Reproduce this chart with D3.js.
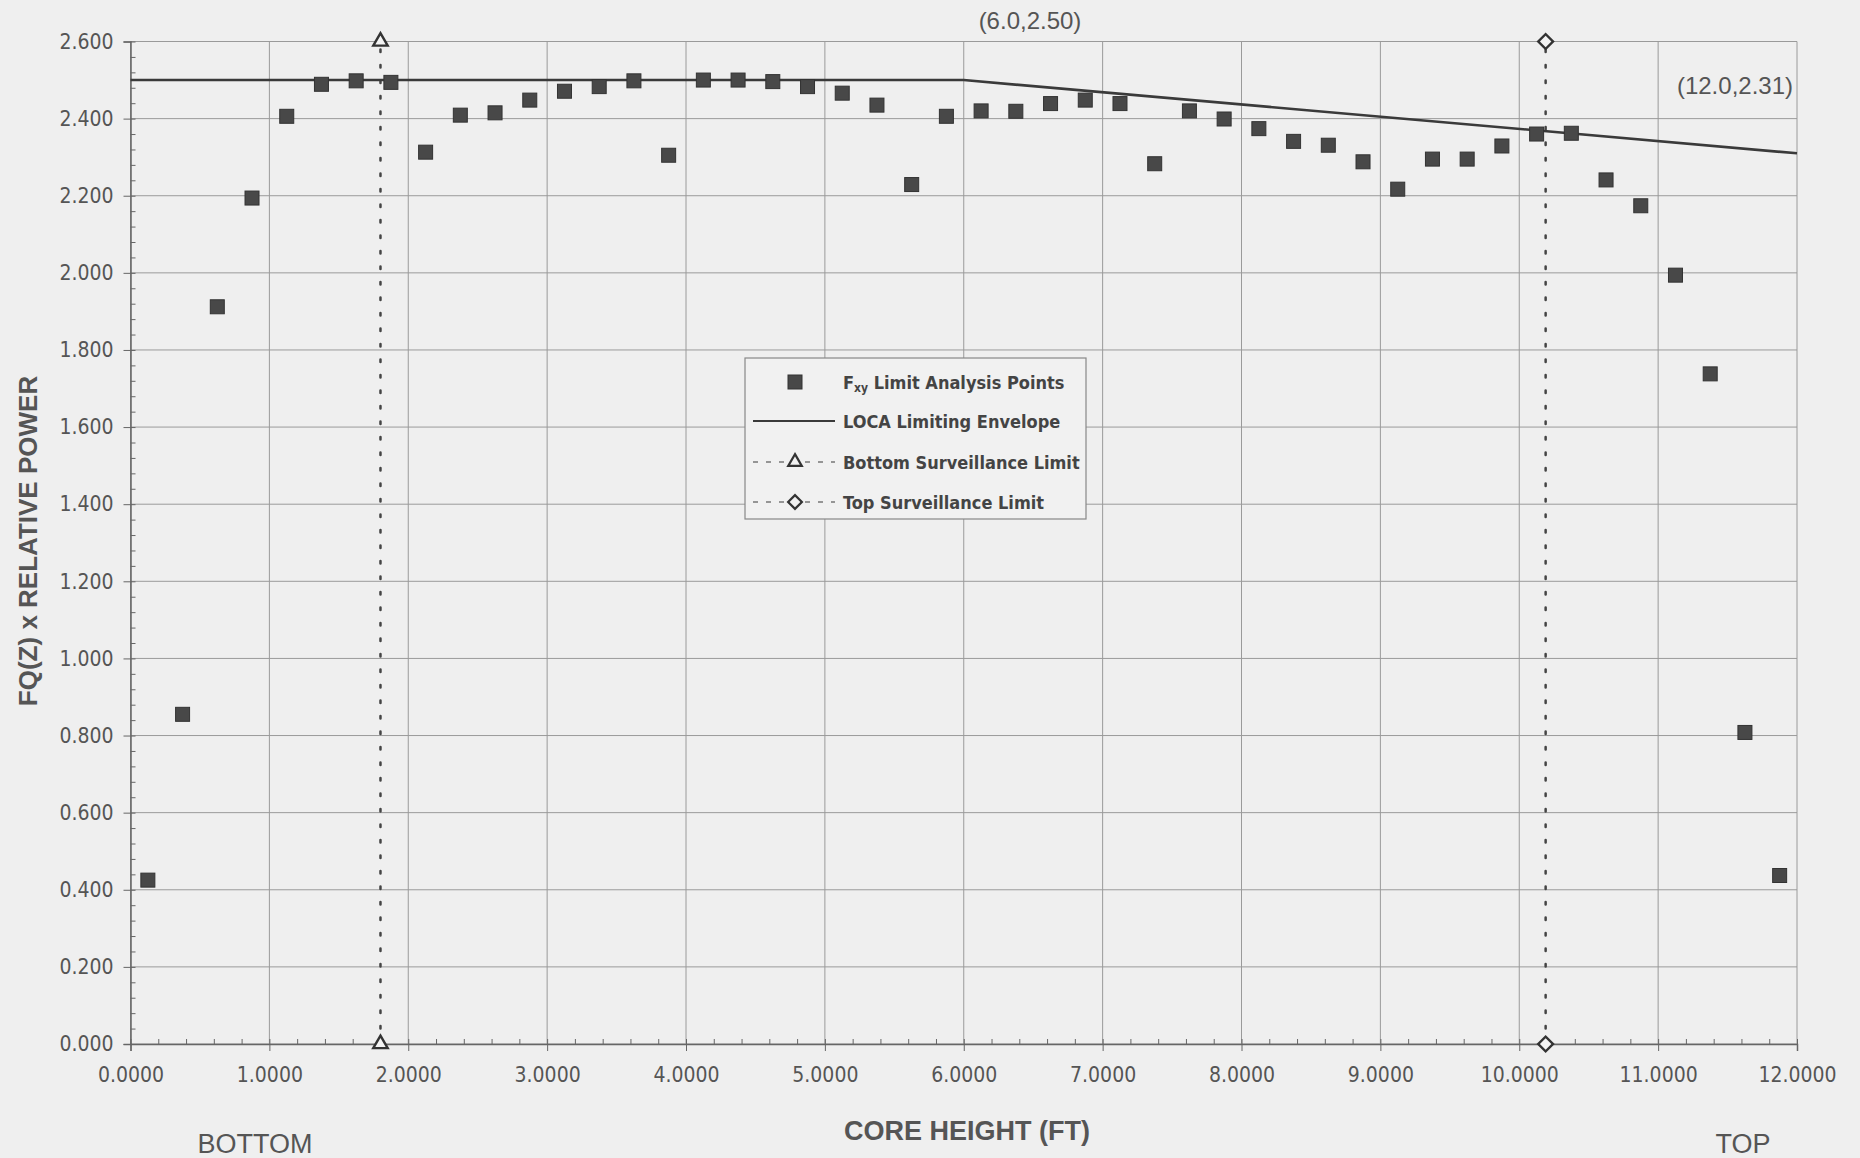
<!DOCTYPE html>
<html>
<head>
<meta charset="utf-8">
<title>FQ(Z) x Relative Power vs Core Height</title>
<style>
body { margin: 0; background: #efefef; }
svg { display: block; }
.tick text { font-family: "Liberation Sans Narrow", "DejaVu Sans Condensed", sans-serif; font-stretch: condensed; font-size: 21px; fill: #555; }
.axis path, .axis line { stroke: #666; }
.grid line { stroke: #9a9a9a; stroke-width: 1; }
.lbl { font-family: "Liberation Sans", Arial, sans-serif; fill: #555; }
.leg { font-family: "Liberation Sans Narrow", "DejaVu Sans Condensed", sans-serif; font-stretch: condensed; font-weight: bold; font-size: 18px; fill: #444; }
</style>
</head>
<body>
<script src="https://d3js.org/d3.v7.min.js"></script>
<script>

// core height (ft) of each analysis point
var heights = [0.125, 0.375, 0.625, 0.875, 1.125, 1.375, 1.625, 1.875, 2.125, 2.375,
               2.625, 2.875, 3.125, 3.375, 3.625, 3.875, 4.125, 4.375, 4.625, 4.875,
               5.125, 5.375, 5.625, 5.875, 6.125, 6.375, 6.625, 6.875, 7.125, 7.375,
               7.625, 7.875, 8.125, 8.375, 8.625, 8.875, 9.125, 9.375, 9.625, 9.875,
               10.125, 10.375, 10.625, 10.875, 11.125, 11.375, 11.625, 11.875];
// Fxy limit analysis points, FQ(Z) x relative power
var fxyPoints = [0.425, 0.855, 1.912, 2.194, 2.406, 2.489, 2.498, 2.494, 2.313, 2.409,
                 2.415, 2.448, 2.471, 2.483, 2.498, 2.305, 2.500, 2.500, 2.496, 2.483,
                 2.466, 2.435, 2.229, 2.406, 2.420, 2.419, 2.439, 2.448, 2.439, 2.283,
                 2.420, 2.399, 2.374, 2.341, 2.331, 2.288, 2.217, 2.295, 2.295, 2.329,
                 2.360, 2.362, 2.241, 2.174, 1.994, 1.738, 0.808, 0.437];

// LOCA limiting envelope
var locaX = [0.0, 6.0, 12.0];
var locaY = [2.50, 2.50, 2.31];

// surveillance limits
var bottomLimitX = [1.80, 1.80];
var bottomLimitY = [0.0, 2.60];
var topLimitX = [10.19, 10.19];
var topLimitY = [0.0, 2.60];

var xTicks = [0, 1, 2, 3, 4, 5, 6, 7, 8, 9, 10, 11, 12];
var yTicks = [0, 0.2, 0.4, 0.6, 0.8, 1.0, 1.2, 1.4, 1.6, 1.8, 2.0, 2.2, 2.4, 2.6];

var notes = ["(6.0,2.50)", "(12.0,2.31)"];

var W = 1860, H = 1158;
var margin = {top: 41.5, right: 63, bottom: 114, left: 130.5},
    width = W - margin.left - margin.right,
    height = H - margin.top - margin.bottom;

var x = d3.scaleLinear().domain([0, 12]).range([0, width]);
var y = d3.scaleLinear().domain([0, 2.6]).range([height, 0]);

var svg = d3.select("body").append("svg")
    .attr("width", W)
    .attr("height", H);
var g = svg.append("g")
    .attr("transform", "translate(" + margin.left + "," + margin.top + ")");

// grid
g.append("g").attr("class", "grid")
  .selectAll("line").data(yTicks).enter().append("line")
    .attr("x1", 0).attr("x2", width)
    .attr("y1", function(d) { return y(d); }).attr("y2", function(d) { return y(d); });
g.append("g").attr("class", "grid")
  .selectAll("line").data(xTicks).enter().append("line")
    .attr("y1", 0).attr("y2", height)
    .attr("x1", function(d) { return x(d); }).attr("x2", function(d) { return x(d); });

// minor ticks
g.append("g").attr("class", "axis")
    .call(d3.axisLeft(y).tickValues(d3.range(0, 2.61, 0.04)).tickSize(-5).tickFormat(""))
    .call(function(s) { s.select(".domain").remove(); });
g.append("g").attr("class", "axis")
    .attr("transform", "translate(0," + height + ")")
    .call(d3.axisBottom(x).tickValues(d3.range(0, 12.01, 0.2)).tickSize(-5).tickFormat(""))
    .call(function(s) { s.select(".domain").remove(); });

// major axes
g.append("g").attr("class", "axis")
    .call(d3.axisLeft(y).tickValues(yTicks).tickSize(7).tickPadding(10).tickFormat(d3.format(".3f")))
    .call(function(s) { s.select(".domain").attr("stroke-width", 1.5); });
g.append("g").attr("class", "axis")
    .attr("transform", "translate(0," + height + ")")
    .call(d3.axisBottom(x).tickValues(xTicks).tickSize(7).tickPadding(16).tickFormat(d3.format(".4f")))
    .call(function(s) { s.select(".domain").attr("stroke-width", 1.5); });

// marker shapes: triangle, and a square turned 45 degrees for the diamond
function marker(sel, shape, size) {
  if (shape === "diamond") {
    sel.attr("d", d3.symbol().type(d3.symbolSquare).size(size))
       .attr("transform", function() { return d3.select(this).attr("transform") + "rotate(45)"; });
  } else {
    sel.attr("d", d3.symbol().type(d3.symbolTriangle).size(size));
  }
}

// surveillance limit lines
function limit(xs, ys, shape, size) {
  var pts = xs.map(function(v, i) { return [v, ys[i]]; });
  g.append("path")
    .attr("d", d3.line().x(function(d) { return x(d[0]); }).y(function(d) { return y(d[1]); })(pts))
    .attr("fill", "none").attr("stroke", "#444").attr("stroke-width", 2.5)
    .attr("stroke-dasharray", "2.5,13").attr("stroke-linecap", "round");
  g.selectAll(null).data(pts).enter().append("path")
    .attr("transform", function(d) { return "translate(" + x(d[0]) + "," + y(d[1]) + ")"; })
    .attr("fill", "#f4f4f4").attr("stroke", "#333").attr("stroke-width", 2.4)
    .call(marker, shape, size);
}
limit(bottomLimitX, bottomLimitY, "triangle", 90);
limit(topLimitX, topLimitY, "diamond", 110);

// LOCA envelope
var loca = locaX.map(function(v, i) { return [v, locaY[i]]; });
g.append("path")
  .attr("d", d3.line().x(function(d) { return x(d[0]); }).y(function(d) { return y(d[1]); })(loca))
  .attr("fill", "none").attr("stroke", "#3a3a3a").attr("stroke-width", 2.6);

// analysis points
g.selectAll(".pt").data(heights).enter().append("rect")
    .attr("class", "pt")
    .attr("x", function(d) { return x(d) - 7; })
    .attr("y", function(d, i) { return y(fxyPoints[i]) - 7; })
    .attr("width", 14).attr("height", 14)
    .attr("fill", "#484848").attr("stroke", "#333").attr("stroke-width", 1);

// point annotations
svg.append("text").attr("class", "lbl")
    .attr("x", 1030).attr("y", 29)
    .attr("text-anchor", "middle").style("font-size", "24px")
    .text(notes[0]);
svg.append("text").attr("class", "lbl")
    .attr("x", 1793).attr("y", 94)
    .attr("text-anchor", "end").style("font-size", "24px")
    .text(notes[1]);

// axis titles
svg.append("text").attr("class", "lbl")
    .attr("x", 967).attr("y", 1140)
    .attr("text-anchor", "middle").style("font-size", "27px").style("font-weight", "bold")
    .text("CORE HEIGHT (FT)");
svg.append("text").attr("class", "lbl")
    .attr("transform", "translate(37,541)rotate(-90)")
    .attr("text-anchor", "middle").style("font-size", "26px").style("font-weight", "bold")
    .text("FQ(Z) x RELATIVE POWER");
svg.append("text").attr("class", "lbl")
    .attr("x", 255).attr("y", 1153).attr("text-anchor", "middle").style("font-size", "27px")
    .text("BOTTOM");
svg.append("text").attr("class", "lbl")
    .attr("x", 1743).attr("y", 1153).attr("text-anchor", "middle").style("font-size", "27px")
    .text("TOP");

// legend
var leg = svg.append("g").attr("transform", "translate(745,358)");
leg.append("rect").attr("width", 341).attr("height", 161)
    .attr("fill", "#f1f1f1").attr("stroke", "#888").attr("stroke-width", 1.2);
var rowY = [24, 63, 104, 144];
leg.append("rect").attr("x", 43).attr("y", rowY[0] - 7).attr("width", 14).attr("height", 14)
    .attr("fill", "#484848").attr("stroke", "#333");
leg.append("line").attr("x1", 8).attr("x2", 90).attr("y1", rowY[1]).attr("y2", rowY[1])
    .attr("stroke", "#3a3a3a").attr("stroke-width", 1.8);
[[rowY[2], "triangle", 80], [rowY[3], "diamond", 95]].forEach(function(r) {
  leg.append("line").attr("x1", 8).attr("x2", 90).attr("y1", r[0]).attr("y2", r[0])
      .attr("stroke", "#777").attr("stroke-width", 1.5).attr("stroke-dasharray", "5,8");
  leg.append("path").attr("transform", "translate(50," + r[0] + ")")
      .attr("fill", "#f1f1f1").attr("stroke", "#333").attr("stroke-width", 2.2)
      .call(marker, r[1], r[2]);
});
var t0 = leg.append("text").attr("class", "leg").attr("x", 98).attr("y", rowY[0] + 7);
t0.append("tspan").text("F");
t0.append("tspan").attr("font-size", "12px").attr("dy", 3).text("xy");
t0.append("tspan").attr("dy", -3).text(" Limit Analysis Points");
leg.append("text").attr("class", "leg").attr("x", 98).attr("y", rowY[1] + 7).text("LOCA Limiting Envelope");
leg.append("text").attr("class", "leg").attr("x", 98).attr("y", rowY[2] + 7).text("Bottom Surveillance Limit");
leg.append("text").attr("class", "leg").attr("x", 98).attr("y", rowY[3] + 7).text("Top Surveillance Limit");

</script>
</body>
</html>
